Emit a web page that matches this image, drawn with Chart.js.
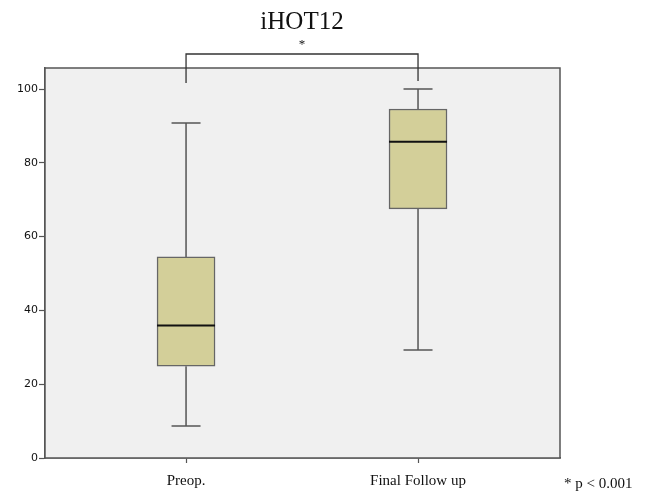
<!DOCTYPE html>
<html>
<head>
<meta charset="utf-8">
<script src="https://cdn.jsdelivr.net/npm/chart.js@4/dist/chart.umd.min.js"></script>
<style>
  body { margin: 0; background: #fff; }
  #wrap { width: 646px; height: 494px; }
</style>
</head>
<body>
<div id="wrap"><canvas id="myChart"></canvas></div>
<script>
const categories = ['Preop.', 'Final Follow up'];
const whiskerLow = [8.7, 29.3];
const q1 = [24.9, 67.5];
const median = [35.9, 85.7];
const q3 = [54.5, 94.6];
const whiskerHigh = [90.8, 100];
const yTicks = [0, 20, 40, 60, 80, 100];

// box drawing extras: whiskers, caps, median, plot frame, annotations
const boxExtras = {
  id: 'boxExtras',
  beforeDatasetsDraw(chart) {
    const { ctx, chartArea: a } = chart;
    ctx.save();
    ctx.fillStyle = '#f0f0f0';
    ctx.fillRect(a.left, a.top, a.right - a.left, a.bottom - a.top);
    const x = chart.scales.x, y = chart.scales.y;
    ctx.strokeStyle = '#555';
    ctx.lineWidth = 1.5;
    categories.forEach((c, i) => {
      const px = x.getPixelForValue(i + 1);
      ctx.beginPath();
      ctx.moveTo(px, y.getPixelForValue(whiskerHigh[i]));
      ctx.lineTo(px, y.getPixelForValue(q3[i]));
      ctx.moveTo(px, y.getPixelForValue(q1[i]));
      ctx.lineTo(px, y.getPixelForValue(whiskerLow[i]));
      ctx.moveTo(px - 14.5, y.getPixelForValue(whiskerHigh[i]));
      ctx.lineTo(px + 14.5, y.getPixelForValue(whiskerHigh[i]));
      ctx.moveTo(px - 14.5, y.getPixelForValue(whiskerLow[i]));
      ctx.lineTo(px + 14.5, y.getPixelForValue(whiskerLow[i]));
      ctx.stroke();
    });
    ctx.restore();
  },
  afterDatasetsDraw(chart) {
    const { ctx, chartArea: a } = chart;
    const x = chart.scales.x, y = chart.scales.y;
    ctx.save();
    ctx.strokeStyle = '#111';
    ctx.lineWidth = 2;
    categories.forEach((c, i) => {
      const px = x.getPixelForValue(i + 1);
      const py = y.getPixelForValue(median[i]);
      ctx.beginPath();
      ctx.moveTo(px - 29, py);
      ctx.lineTo(px + 29, py);
      ctx.stroke();
    });
    // frame
    ctx.strokeStyle = '#555';
    ctx.lineWidth = 1.5;
    ctx.strokeRect(a.left, a.top, a.right - a.left, a.bottom - a.top);
    // significance bracket
    const x1 = x.getPixelForValue(1), x2 = x.getPixelForValue(2);
    const by = a.top - 14;
    ctx.strokeStyle = '#333';
    ctx.lineWidth = 1.3;
    ctx.beginPath();
    ctx.moveTo(x1, a.top + 15);
    ctx.lineTo(x1, by);
    ctx.lineTo(x2, by);
    ctx.lineTo(x2, a.top + 13);
    ctx.stroke();
    ctx.fillStyle = '#111';
    ctx.textAlign = 'center';
    ctx.textBaseline = 'middle';
    ctx.font = '13px "Liberation Serif"';
    ctx.fillText('*', (x1 + x2) / 2, by - 9);
    ctx.font = '25px "Liberation Serif"';
    ctx.fillText('iHOT12', (x1 + x2) / 2, 22);
    ctx.font = '15px "Liberation Serif"';
    ctx.textAlign = 'left';
    ctx.fillText('* p < 0.001', 564, 484);
    ctx.restore();
  }
};

new Chart(document.getElementById('myChart'), {
  type: 'bar',
  data: {
    datasets: [{
      data: categories.map((c, i) => ({ x: i + 1, y: [q1[i], q3[i]] })),
      backgroundColor: '#d3cf99',
      borderColor: '#666',
      borderWidth: 1.5,
      borderSkipped: false,
      barThickness: 58
    }]
  },
  options: {
    responsive: true,
    maintainAspectRatio: false,
    animation: false,
    layout: { padding: { left: 0, right: 86, top: 68, bottom: 0 } },
    plugins: { legend: { display: false }, tooltip: { enabled: false }, title: { display: false } },
    scales: {
      x: {
        type: 'linear',
        offset: false,
        min: 0.392,
        max: 2.612,
        afterBuildTicks: (s) => { s.ticks = categories.map((c, i) => ({ value: i + 1 })); },
        afterFit: (s) => { s.height = 36; },
        ticks: {
          callback: (v) => categories[v - 1],
          color: '#111',
          font: { family: 'Liberation Serif', size: 15 },
          padding: 9,
          maxRotation: 0
        },
        grid: { offset: false, drawOnChartArea: false, tickLength: 5, color: '#555', tickWidth: 1.2 },
        border: { color: '#555', width: 1.5 }
      },
      y: {
        min: 0,
        max: 105.7,
        afterBuildTicks: (s) => { s.ticks = yTicks.map(v => ({ value: v })); },
        afterFit: (s) => { s.width = 45; },
        ticks: {
          color: '#111',
          font: { family: 'DejaVu Sans', size: 11 },
          padding: 1
        },
        grid: { drawOnChartArea: false, tickLength: 6, color: '#555', tickWidth: 1.2 },
        border: { color: '#555', width: 1.5 }
      }
    }
  },
  plugins: [boxExtras]
});
</script>
</body>
</html>
